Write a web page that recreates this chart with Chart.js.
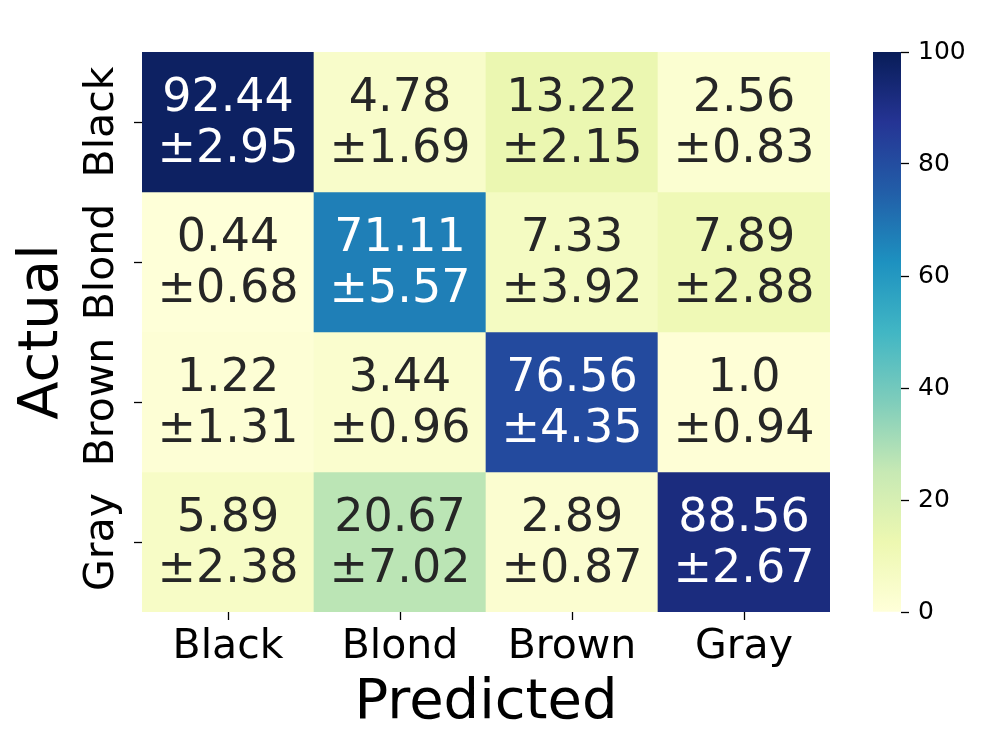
<!DOCTYPE html>
<html>
<head>
<meta charset="utf-8">
<title>Hair colour confusion matrix</title>
<script src="https://cdn.jsdelivr.net/npm/chart.js@4/dist/chart.umd.min.js"></script>
<style>
  html, body { margin: 0; padding: 0; background: #fff; }
  #wrap { position: relative; width: 987px; height: 754px; background: #fff; }
  #heat { position: absolute; left: 0; top: 0; }
  #cbar { position: absolute; left: 873px; top: 0; }
</style>
</head>
<body>
<div id="wrap">
  <canvas id="heat" width="987" height="754"></canvas>
  <canvas id="cbar" width="114" height="754"></canvas>
</div>
<script>
(function () {
  "use strict";

  // categories
  var predictedLabels = ["Black", "Blond", "Brown", "Gray"];
  var actualLabels = ["Black", "Blond", "Brown", "Gray"];

  // mean per cell, one array per actual row (columns = predicted)
  var meanBlack = [92.44, 4.78, 13.22, 2.56];
  var meanBlond = [0.44, 71.11, 7.33, 7.89];
  var meanBrown = [1.22, 3.44, 76.56, 1.0];
  var meanGray = [5.89, 20.67, 2.89, 88.56];

  // std per cell
  var stdBlack = [2.95, 1.69, 2.15, 0.83];
  var stdBlond = [0.68, 5.57, 3.92, 2.88];
  var stdBrown = [1.31, 0.96, 4.35, 0.94];
  var stdGray = [2.38, 7.02, 0.87, 2.67];

  // value each cell is shaded with
  // (the picture colours do not follow the printed means exactly)
  var shadeBlack = [98, 4.78, 13.22, 2.56];
  var shadeBlond = [0.44, 67, 7.33, 11];
  var shadeBrown = [1.22, 3.44, 81, 1.0];
  var shadeGray = [5.89, 27, 2.89, 92];

  var colorbarTicks = [0, 20, 40, 60, 80, 100];

  var means = [meanBlack, meanBlond, meanBrown, meanGray];
  var stds = [stdBlack, stdBlond, stdBrown, stdGray];
  var shades = [shadeBlack, shadeBlond, shadeBrown, shadeGray];

  Chart.defaults.font.family = "'DejaVu Sans', sans-serif";
  Chart.defaults.color = "#000";

  // matplotlib YlGnBu
  var YLGNBU = [
    [255, 255, 217], [237, 248, 177], [199, 233, 180], [127, 205, 187], [65, 182, 196],
    [29, 145, 192], [34, 94, 168], [37, 52, 148], [8, 29, 88]
  ];
  var VMIN = colorbarTicks[0];
  var VMAX = colorbarTicks[colorbarTicks.length - 1];

  function cmapRgb(v) {
    var t = (v - VMIN) / (VMAX - VMIN);
    t = Math.max(0, Math.min(1, t)) * (YLGNBU.length - 1);
    var i = Math.min(YLGNBU.length - 2, Math.floor(t));
    var f = t - i;
    var a = YLGNBU[i], b = YLGNBU[i + 1];
    return [0, 1, 2].map(function (k) { return Math.round(a[k] + (b[k] - a[k]) * f); });
  }

  function cmap(v) {
    var c = cmapRgb(v);
    return "rgb(" + c[0] + "," + c[1] + "," + c[2] + ")";
  }

  // seaborn picks text colour from the cell luminance
  function textColor(v) {
    var c = cmapRgb(v).map(function (x) {
      x = x / 255;
      return x <= 0.03928 ? x / 12.92 : Math.pow((x + 0.055) / 1.055, 2.4);
    });
    var lum = 0.2126 * c[0] + 0.7152 * c[1] + 0.0722 * c[2];
    return lum > 0.408 ? "#262626" : "#ffffff";
  }

  function fmt(v) {
    return v % 1 === 0 ? v.toFixed(1) : String(v);
  }

  var datasets = actualLabels.map(function (name, r) {
    return {
      label: name,
      data: predictedLabels.map(function () { return [r, r + 1]; }),
      backgroundColor: shades[r].map(cmap),
      borderWidth: 0,
      barPercentage: 1,
      categoryPercentage: 1,
      grouped: false
    };
  });

  var annotate = {
    id: "annotate",
    afterDatasetsDraw: function (chart) {
      var ctx = chart.ctx;
      var xs = chart.scales.x, ys = chart.scales.y;
      ctx.save();
      ctx.font = "46px 'DejaVu Sans'";
      ctx.textAlign = "center";
      ctx.textBaseline = "alphabetic";
      for (var r = 0; r < actualLabels.length; r++) {
        for (var c = 0; c < predictedLabels.length; c++) {
          var x = xs.getPixelForValue(c);
          var y = ys.getPixelForValue(r + 0.5);
          ctx.fillStyle = textColor(shades[r][c]);
          ctx.fillText(fmt(means[r][c]), x, y - 11);
          ctx.fillText("\u00b1" + fmt(stds[r][c]), x, y + 40);
        }
      }
      ctx.restore();
    }
  };

  new Chart(document.getElementById("heat").getContext("2d"), {
    type: "bar",
    data: { labels: predictedLabels, datasets: datasets },
    plugins: [annotate],
    options: {
      responsive: false,
      animation: false,
      layout: { padding: { left: 0, top: 52, right: 157, bottom: 0 } },
      plugins: { legend: { display: false }, tooltip: { enabled: false } },
      scales: {
        x: {
          type: "category",
          offset: true,
          border: { display: false },
          grid: { offset: false, drawOnChartArea: false, drawTicks: true, tickLength: 8, tickWidth: 1.3, tickColor: "#000" },
          ticks: { font: { size: 41 }, color: "#000", padding: 3, maxRotation: 0 },
          title: { display: true, text: "Predicted", font: { size: 56 }, color: "#000", padding: { top: 0, bottom: 17 } },
          afterFit: function (s) { s.height = 142; }
        },
        y: {
          type: "linear",
          min: 0,
          max: actualLabels.length,
          reverse: true,
          border: { display: false },
          grid: { drawOnChartArea: false, drawTicks: true, tickLength: 8, tickWidth: 1.3, tickColor: "#000" },
          afterBuildTicks: function (s) {
            s.ticks = actualLabels.map(function (_, i) { return { value: i + 0.5 }; });
          },
          ticks: {
            font: { size: 41 },
            color: "#000",
            minRotation: 90,
            maxRotation: 90,
            crossAlign: "center",
            padding: -33,
            callback: function (v) { return actualLabels[Math.floor(v)]; }
          },
          title: { display: true, text: "Actual", font: { size: 56 }, color: "#000", padding: { top: 9, bottom: 0 } },
          afterFit: function (s) { s.width = 142; }
        }
      }
    }
  });

  // colour bar
  new Chart(document.getElementById("cbar").getContext("2d"), {
    type: "bar",
    data: {
      labels: ["cb"],
      datasets: [{
        data: [[VMIN, VMAX]],
        borderWidth: 0,
        barPercentage: 1,
        categoryPercentage: 1,
        backgroundColor: function (c) {
          var ca = c.chart.chartArea;
          if (!ca) return YLGNBU[0];
          var g = c.chart.ctx.createLinearGradient(0, ca.bottom, 0, ca.top);
          YLGNBU.forEach(function (col, i) {
            g.addColorStop(i / (YLGNBU.length - 1), "rgb(" + col.join(",") + ")");
          });
          return g;
        }
      }]
    },
    options: {
      responsive: false,
      animation: false,
      layout: { padding: { left: 0, top: 52, right: 0, bottom: 142 } },
      plugins: { legend: { display: false }, tooltip: { enabled: false } },
      scales: {
        x: { display: false },
        y: {
          position: "right",
          min: VMIN,
          max: VMAX,
          border: { display: false },
          grid: { drawOnChartArea: false, drawTicks: true, tickLength: 8, tickWidth: 1.3, tickColor: "#000" },
          afterBuildTicks: function (s) {
            s.ticks = colorbarTicks.map(function (v) { return { value: v }; });
          },
          ticks: { font: { size: 25 }, color: "#000", padding: 9 },
          afterFit: function (s) { s.width = 86; }
        }
      }
    }
  });
})();
</script>
</body>
</html>
